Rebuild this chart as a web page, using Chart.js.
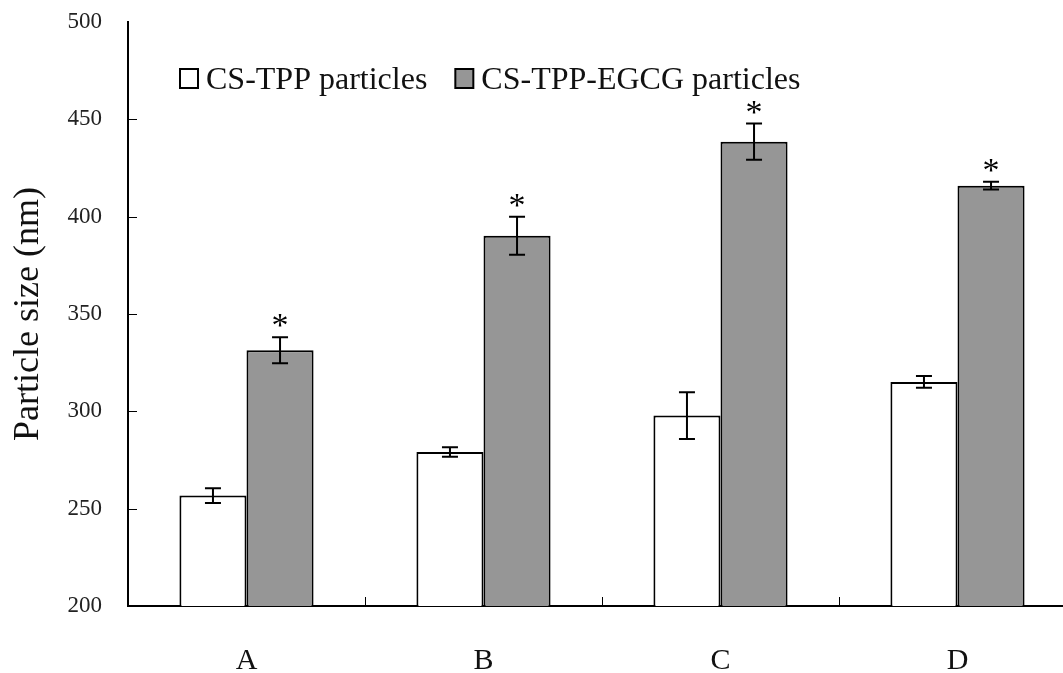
<!DOCTYPE html>
<html>
<head>
<meta charset="utf-8">
<script src="https://cdn.jsdelivr.net/npm/chart.js@4.4.0/dist/chart.umd.min.js"></script>
<style>
  html, body { margin: 0; padding: 0; background: #fff; overflow: hidden; }
  #wrap { width: 1076px; height: 673px; }
</style>
</head>
<body>
<div id="wrap"><canvas id="sizeChart"></canvas></div>
<script>
// particle size per sample group (nm), mean and SD
const groups = ['A', 'B', 'C', 'D'];
const seriesNames = ['CS-TPP particles', 'CS-TPP-EGCG particles'];
const tppSize = [256.7, 279.1, 297.8, 315.1];
const tppErr = [3.8, 2.4, 12.0, 3.0];
const egcgSize = [331.4, 390.2, 438.5, 415.9];
const egcgErr = [6.7, 9.7, 9.3, 2.0];
const egcgSig = ['*', '*', '*', '*'];
const yTicks = [200, 250, 300, 350, 400, 450, 500];

const serif = '"Liberation Serif", "Times New Roman", serif';
const fills = ['#ffffff', '#969696'];
const errs = [tppErr, egcgErr];
const marks = [null, egcgSig];

// error bars + significance stars
const errorBars = {
  id: 'errorBars',
  afterDatasetsDraw(chart) {
    const ctx = chart.ctx;
    const y = chart.scales.y;
    ctx.save();
    ctx.strokeStyle = '#000';
    ctx.lineWidth = 2;
    chart.data.datasets.forEach((ds, di) => {
      const meta = chart.getDatasetMeta(di);
      meta.data.forEach((bar, i) => {
        const v = ds.data[i];
        const e = errs[di][i];
        const top = y.getPixelForValue(v + e);
        const bot = y.getPixelForValue(v - e);
        ctx.beginPath();
        ctx.moveTo(bar.x, top); ctx.lineTo(bar.x, bot);
        ctx.moveTo(bar.x - 8, top); ctx.lineTo(bar.x + 8, top);
        ctx.moveTo(bar.x - 8, bot); ctx.lineTo(bar.x + 8, bot);
        ctx.stroke();
        if (marks[di]) {
          ctx.fillStyle = '#000';
          ctx.font = '34px ' + serif;
          ctx.textAlign = 'center';
          ctx.textBaseline = 'alphabetic';
          ctx.fillText(marks[di][i], bar.x, top - 1);
        }
      });
    });
    ctx.restore();
  }
};

// short inward tick marks on both axes
const innerTicks = {
  id: 'innerTicks',
  afterDraw(chart) {
    const ctx = chart.ctx;
    const { x, y } = chart.scales;
    const area = chart.chartArea;
    ctx.save();
    ctx.strokeStyle = '#000';
    ctx.lineWidth = 1;
    ctx.beginPath();
    yTicks.slice(1, -1).forEach(t => {
      const py = Math.round(y.getPixelForValue(t)) + 0.5;
      ctx.moveTo(area.left, py); ctx.lineTo(area.left + 9, py);
    });
    for (let i = 1; i < groups.length; i++) {
      const px = Math.round((x.getPixelForValue(i - 1) + x.getPixelForValue(i)) / 2) + 0.5;
      ctx.moveTo(px, area.bottom); ctx.lineTo(px, area.bottom - 9);
    }
    ctx.stroke();
    ctx.restore();
  }
};

// legend drawn inside the plot, top left
const boxLegend = {
  id: 'boxLegend',
  afterDraw(chart) {
    const ctx = chart.ctx;
    ctx.save();
    ctx.font = '32px ' + serif;
    ctx.textBaseline = 'alphabetic';
    ctx.textAlign = 'left';
    let lx = 180;
    chart.data.datasets.forEach((ds, di) => {
      ctx.fillStyle = fills[di];
      ctx.fillRect(lx, 69, 18, 19);
      ctx.strokeStyle = '#000';
      ctx.lineWidth = 2;
      ctx.strokeRect(lx, 69, 18, 19);
      ctx.fillStyle = '#111';
      ctx.fillText(ds.label, lx + 26, 89);
      lx += 26 + ctx.measureText(ds.label).width + 28;
    });
    ctx.restore();
  }
};

new Chart(document.getElementById('sizeChart'), {
  type: 'bar',
  data: {
    labels: groups,
    datasets: [
      { label: seriesNames[0], data: tppSize, backgroundColor: fills[0] },
      { label: seriesNames[1], data: egcgSize, backgroundColor: fills[1] }
    ]
  },
  options: {
    responsive: true,
    maintainAspectRatio: false,
    devicePixelRatio: 1,
    animation: false,
    layout: { padding: { top: 22, right: 0, left: 0, bottom: 0 } },
    datasets: {
      bar: {
        borderColor: '#000',
        borderWidth: 2,
        borderSkipped: 'start',
        categoryPercentage: 0.566,
        barPercentage: 1.0
      }
    },
    plugins: {
      legend: { display: false },
      tooltip: { enabled: false }
    },
    scales: {
      x: {
        afterFit(s) { s.height = 67; },
        grid: { display: true, drawOnChartArea: false, drawTicks: false },
        border: { display: true, color: '#000', width: 2 },
        ticks: { color: '#111', font: { family: serif, size: 30 }, padding: 37 }
      },
      y: {
        min: 200,
        max: 500,
        afterFit(s) {
          s.width = 128;
          s.paddingTop = 0;
          s.paddingBottom = 0;
        },
        afterBuildTicks(s) { s.ticks = yTicks.map(v => ({ value: v })); },
        grid: { display: true, drawOnChartArea: false, drawTicks: false },
        border: { display: true, color: '#000', width: 2 },
        ticks: { color: '#222', font: { family: serif, size: 23 }, padding: 26 },
        title: {
          display: true,
          text: 'Particle size (nm)',
          color: '#111',
          font: { family: serif, size: 36 },
          padding: { top: 7, bottom: 0 }
        }
      }
    }
  },
  plugins: [errorBars, innerTicks, boxLegend]
});
</script>
</body>
</html>
